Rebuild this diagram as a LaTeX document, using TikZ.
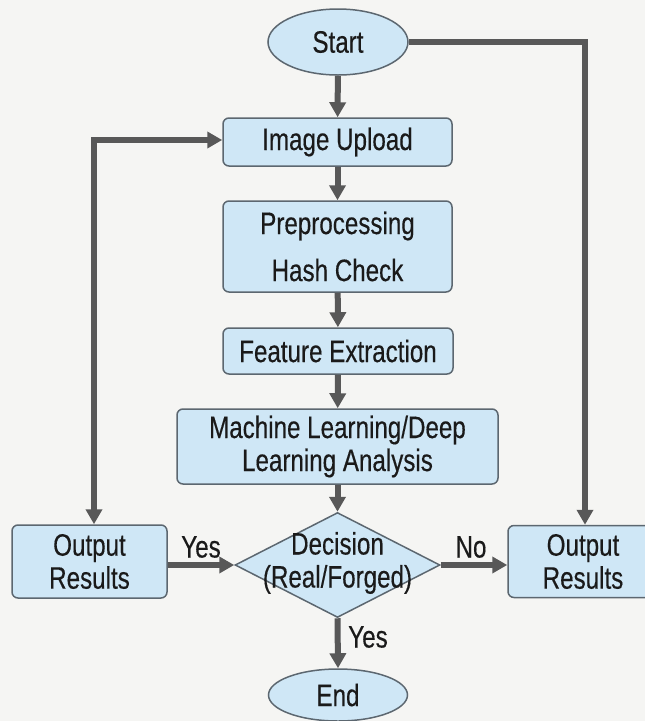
\documentclass[tikz,border=0pt]{standalone}
\usepackage{fontspec}
\setmainfont{Liberation Sans}[FakeStretch=0.78,FakeBold=0.35]
\usetikzlibrary{arrows.meta,shapes.geometric}
\definecolor{bgc}{HTML}{F5F5F3}
\definecolor{boxfill}{HTML}{CFE7F6}
\definecolor{boxline}{HTML}{5C6770}
\definecolor{arrc}{HTML}{585858}
\definecolor{txt}{HTML}{1A1A1A}
\tikzset{
  every node/.style={text=txt, font=\fontsize{31}{33}\selectfont},
  procbox/.style={draw=boxline, fill=boxfill, line width=1.5pt, rounded corners=6pt,
    inner sep=0pt, align=center},
  term/.style={ellipse, draw=boxline, fill=boxfill, line width=1.5pt, inner sep=0pt},
  decbox/.style={diamond, draw=boxline, fill=boxfill, line width=1.5pt, inner sep=0pt},
  flow/.style={draw=arrc, line width=6pt, -{Triangle[length=15pt,width=16pt]}},
  flowboth/.style={draw=arrc, line width=6pt, {Triangle[length=15pt,width=16pt]}-{Triangle[length=15pt,width=16pt]}},
  lbl/.style={inner sep=0pt}
}
\begin{document}
\begin{tikzpicture}[x=1pt,y=-1pt]
  \fill[bgc] (0,0) rectangle (645,721);
  \useasboundingbox (0,0) rectangle (645,721);

  % main column
  \node[term, minimum width=140pt, minimum height=66pt] (start) at (338,42) {Start};
  \node[procbox, minimum width=229pt, minimum height=48pt] (upload) at (337.5,142) {Image Upload};
  \node[procbox, minimum width=229pt, minimum height=91pt] (prep) at (337.5,246.5) {};
  \node[lbl] (prep1) at (337.5,226) {Preprocessing};
  \node[lbl] (prep2) at (337.5,270) {Hash Check};
  \node[procbox, minimum width=230pt, minimum height=46pt] (feat) at (338,351) {Feature Extraction};
  \node[procbox, minimum width=321pt, minimum height=75pt] (ml) at (337.5,446.5)
    {Machine Learning/Deep\\Learning Analysis};
  \node[decbox, minimum width=205pt, minimum height=105pt] (dec) at (337.5,565) {};
  \node[lbl, align=center] (dectext) at (337.5,563) {Decision\\(Real/Forged)};
  \node[term, minimum width=139pt, minimum height=52pt] (end) at (338,695) {End};

  % side outputs
  \node[procbox, minimum width=155pt, minimum height=73pt] (outl) at (89.5,561.5) {Output\\Results};
  \node[procbox, minimum width=150pt, minimum height=72pt] (outr) at (583,561.5) {Output\\Results};

  % connectors
  \draw[flow] (start) -- (upload);
  \draw[flow] (upload) -- (prep);
  \draw[flow] (prep) -- (feat);
  \draw[flow] (feat) -- (ml);
  \draw[flow] (ml) -- (dec);
  \draw[flow] (start.east) -| ([xshift=2pt]outr.north);
  \draw[flowboth] ([xshift=4.5pt]outl.north) |- ([yshift=2pt]upload.west);
  \draw[flow] (outl.east |- dec.west) -- (dec.west);
  \draw[flow] (dec.east) -- (outr.west |- dec.east);
  \draw[flow] (dec.south) -- (end.north);

  % branch labels
  \node[lbl] (yesl) at (201,547) {Yes};
  \node[lbl] (nor) at (471,547) {No};
  \node[lbl] (yesd) at (368,637) {Yes};
\end{tikzpicture}
\end{document}
